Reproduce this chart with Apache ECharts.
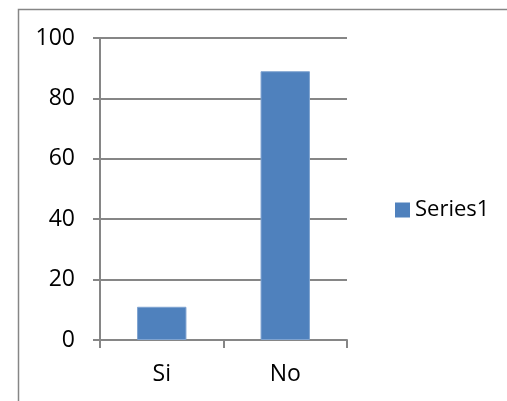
<!DOCTYPE html>
<html>
<head>
<meta charset="utf-8">
<script src="https://cdn.jsdelivr.net/npm/echarts@6/dist/echarts.min.js"></script>
<style>
html, body { margin: 0; padding: 0; background: #fff; }
#main { width: 507px; height: 401px; }
</style>
</head>
<body>
<div id="main"></div>
<script>
var categories = ['Si', 'No'];
var seriesName = 'Series1';
var seriesValues = [11, 89];
var yTicks = [0, 20, 40, 60, 80, 100];

var axisGray = '#868686';
var font = "'Open Sans', 'Noto Sans', sans-serif";

var myChart = echarts.init(document.getElementById('main'));
var option = {
    animation: false,
    backgroundColor: '#fff',
    graphic: [{
        type: 'rect',
        shape: {x: 18.5, y: 9.5, width: 520, height: 420},
        style: {fill: 'none', stroke: axisGray, lineWidth: 1.5},
        silent: true
    }],
    grid: {left: 100, top: 38, right: 160, bottom: 61},
    legend: {
        data: [seriesName],
        left: 390, top: 194,
        itemWidth: 15, itemHeight: 15, itemGap: 8,
        icon: 'rect',
        itemStyle: {borderWidth: 0},
        textStyle: {fontFamily: font, fontSize: 22, color: '#000'}
    },
    xAxis: {
        type: 'category',
        data: categories,
        axisLine: {lineStyle: {color: axisGray, width: 2}},
        axisTick: {show: true, length: 8, lineStyle: {color: axisGray, width: 2}},
        axisLabel: {fontFamily: font, fontSize: 23, color: '#000', margin: 23}
    },
    yAxis: {
        type: 'value',
        min: yTicks[0], max: yTicks[yTicks.length - 1], interval: 20,
        axisLine: {show: true, lineStyle: {color: axisGray, width: 2}},
        axisTick: {show: true, length: 7, lineStyle: {color: axisGray, width: 2}},
        splitLine: {lineStyle: {color: axisGray, width: 2}},
        axisLabel: {fontFamily: font, fontSize: 23, color: '#000', margin: 25}
    },
    series: [{
        name: seriesName,
        type: 'bar',
        data: seriesValues,
        barWidth: '40%',
        itemStyle: {color: '#4F81BD', borderColor: '#7FA3D0', borderWidth: 1}
    }]
};
myChart.setOption(option);
</script>
</body>
</html>
